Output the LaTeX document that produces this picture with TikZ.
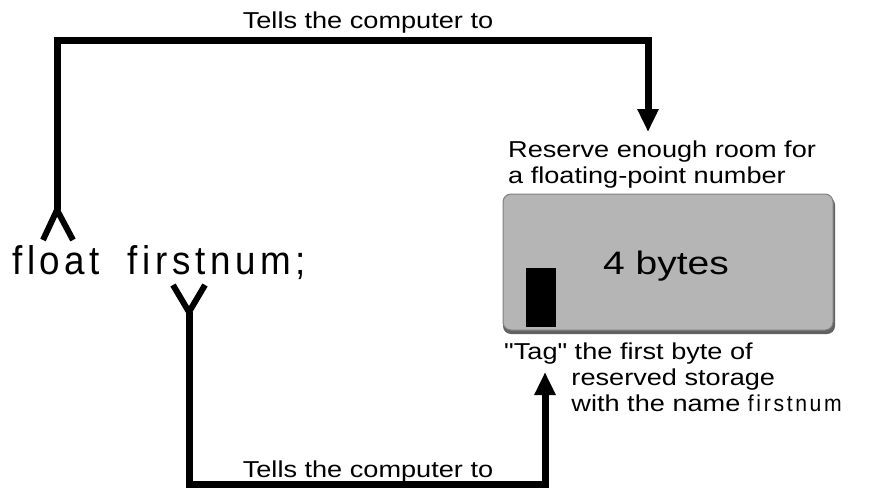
\documentclass[tikz,border=0pt]{standalone}
\usepackage{fontspec}
\usepackage{graphicx}
\setmainfont{Liberation Sans}
\newfontfamily\codefont{Liberation Sans}[LetterSpace=12.5]
\usetikzlibrary{arrows.meta}
\newcommand\widetxt[1]{\scalebox{1.18}[1]{#1}}
\tikzset{
  lbl/.style={inner sep=0pt, font=\fontsize{23}{26}\selectfont},
  conn/.style={line width=7pt, line join=miter},
  leg/.style={line width=6pt},
  tip/.style={-{Triangle[width=20pt,length=23pt]}},
}
\begin{document}
\begin{tikzpicture}[x=1pt,y=-1pt]
\useasboundingbox (0,0) rectangle (874,488);

% code line
\node[anchor=base west, inner sep=0pt, font={\fontsize{40}{44}\codefont}] (code) at (12,274)
  {\scalebox{0.92}[1]{float\hspace{14pt} firstnum;}};

% labels
\node[lbl, anchor=base] (toplbl) at (368,28) {\widetxt{Tells the computer to}};
\node[lbl, anchor=base] (botlbl) at (368,477) {\widetxt{Tells the computer to}};
\node[lbl, anchor=base west] (reslbl) at (508,157)
  {\widetxt{\begin{tabular}[t]{@{}l@{}}Reserve enough room for\\a floating-point number\end{tabular}}};
\node[lbl, anchor=base west] (taglbl) at (504,359)
  {\widetxt{\begin{tabular}[t]{@{}l@{}}\textquotedbl Tag\textquotedbl{} the first byte of\\\hspace*{57pt}reserved storage\\\hspace*{57pt}with the name \scalebox{0.78}[1]{\codefont firstnum}\end{tabular}}};

% memory box
\fill[black!62, rounded corners=8pt] (503,197) rectangle (835,334);
\node[draw=black!50, line width=1pt, fill=black!29, rounded corners=8pt,
      minimum width=330pt, minimum height=136pt, inner sep=0pt] (mem) at (668,262) {};
\node[inner sep=0pt, anchor=base, font=\fontsize{32.5}{36}\selectfont] (bytes) at (666,274)
  {\scalebox{1.2}[1]{4 bytes}};
\node[fill=black, minimum width=30pt, minimum height=59pt, inner sep=0pt] (tagbox) at (541,297.5) {};

% top connector
\coordinate (fk1) at (57,210);
\coordinate (fk1l) at (43,240);
\coordinate (fk1r) at (73,240);
\coordinate (tr) at (648,40.5);
\coordinate (topend) at (648,132);
\draw[leg] (fk1l) -- (fk1) -- (fk1r);
\draw[conn, tip] (fk1) |- (tr) -- (topend);

% bottom connector
\coordinate (fk2) at (189,312);
\coordinate (fk2l) at (173,285);
\coordinate (fk2r) at (205,285);
\coordinate (br) at (545,484.5);
\coordinate (botend) at (545,372);
\draw[leg] (fk2l) -- (fk2) -- (fk2r);
\draw[conn, tip] (fk2) |- (br) -- (botend);
\end{tikzpicture}
\end{document}
